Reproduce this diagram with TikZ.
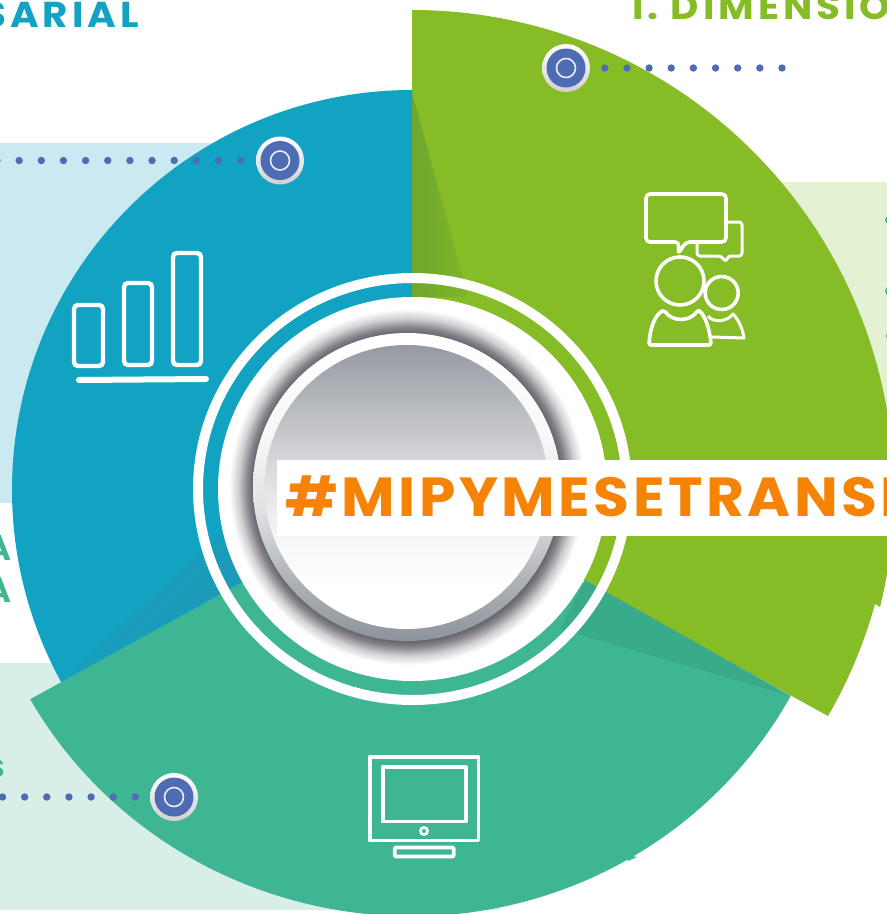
\documentclass[tikz,border=0pt]{standalone}
\usepackage{fontspec}
\setmainfont{Poppins}
\newfontfamily\bannerfont[LetterSpace=6.4,FakeStretch=1.06]{Poppins Bold}
\newfontfamily\headfont[LetterSpace=5,FakeStretch=1.06]{Poppins SemiBold}
\newfontfamily\wideheadfont[LetterSpace=11,FakeStretch=1.08]{Poppins Bold}
\definecolor{bluec}{HTML}{12A3C3}
\definecolor{bluedark}{HTML}{2096B4}
\definecolor{greenc}{HTML}{86BC25}
\definecolor{greendarkl}{HTML}{6FA62E}
\definecolor{greendarkr}{HTML}{80B528}
\definecolor{tealc}{HTML}{3FB693}
\definecolor{tealdark}{HTML}{39AB8B}
\definecolor{bluep}{HTML}{CBE9F1}
\definecolor{greenp}{HTML}{E5F1D3}
\definecolor{tealp}{HTML}{D8EFE8}
\definecolor{dotc}{HTML}{4E6CB3}
\definecolor{orangec}{HTML}{F58406}
\definecolor{steel}{HTML}{959AA2}
\pgfdeclareradialshading{halo}{\pgfpoint{0bp}{0bp}}{rgb(0bp)=(0.40,0.39,0.42);rgb(21.6bp)=(0.40,0.39,0.42);rgb(22.4bp)=(0.52,0.51,0.54);rgb(23.7bp)=(0.82,0.81,0.82);rgb(25bp)=(1,1,1);rgb(50bp)=(1,1,1)}
\pgfdeclareverticalshading{discsh}{100bp}{rgb(0bp)=(1,1,1);rgb(31.7bp)=(1,1,1);rgb(41.2bp)=(0.968,0.968,0.968);rgb(50bp)=(0.89,0.89,0.90);rgb(54.8bp)=(0.835,0.84,0.85);rgb(75bp)=(0.584,0.604,0.635);rgb(100bp)=(0.584,0.604,0.635)}
\pgfdeclareverticalshading{rimsh}{100bp}{rgb(0bp)=(0.56,0.58,0.61);rgb(25bp)=(0.56,0.58,0.61);rgb(35bp)=(0.68,0.70,0.72);rgb(46bp)=(0.88,0.88,0.89);rgb(58bp)=(0.97,0.97,0.97);rgb(75bp)=(1,1,1);rgb(100bp)=(1,1,1)}
\tikzset{
  dotline/.style={dotc,line width=7.4pt,line cap=round,dash pattern=on 0pt off 22.15pt},
  mkouter/.style={circle,minimum size=48pt,inner sep=0pt,top color=white,bottom color=black!18},
  mkinner/.style={circle,minimum size=39pt,inner sep=0pt,fill=dotc},
  mkeye/.style={circle,minimum size=19pt,inner sep=0pt,draw=white!88!dotc,line width=1.6pt},
  iconline/.style={draw=white,line width=3.6pt,line join=round},
  barline/.style={draw=white,line width=4.4pt,rounded corners=4pt},
  head/.style={inner sep=0pt,font=\headfont\fontsize{36}{36}\selectfont},
  widehead/.style={inner sep=0pt,font=\wideheadfont\fontsize{36}{36}\selectfont}
}
\begin{document}
\begin{tikzpicture}[x=1pt,y=1pt]
\useasboundingbox (0,0) rectangle (887,-914);
\clip (0,0) rectangle (887,-914);
\fill[white] (0,0) rectangle (887,-914);
% panels
\fill[bluep] (0,-143) rectangle (420,-503);
\fill[greenp] (600,-182) rectangle (887,-420);
\fill[tealp] (0,-663) rectangle (500,-910);
% clipped labels
\node[widehead,text=bluec,anchor=base east] (t1) at (139,-27) {SARIAL};
\node[widehead,text=greenc,anchor=base west] (t2) at (632,-19) {I. DIMENSIO};
\node[head,text=tealc,anchor=base east] (t3) at (12,-560) {A};
\node[head,text=tealc,anchor=base east] (t4) at (12,-602) {A};
\node[head,text=tealc,anchor=base east,font=\headfont\fontsize{25}{25}\selectfont] (t5) at (5,-777) {S};
\fill[tealc] (889,-220) circle (4);
\fill[tealc] (890,-291) circle (5);
\fill[tealc] (889,-336) circle (3);
% sectors
\fill[bluec] (412,-489) -- (412,-90) arc[start angle=90,end angle=215,radius=400] -- cycle;
\fill[tealc] (790.7,-696) arc[start angle=-28.8,end angle=-90,x radius=432,y radius=425] arc[start angle=-90,end angle=-150.7,x radius=438,y radius=425] -- (412,-489) -- cycle;
\fill[tealc] (628,-855) -- (637,-857) -- (628,-861) -- cycle;
\fill[greenc] (412,-10) arc[start angle=90,end angle=-13.8,radius=482] -- (875,-604) .. controls (864.1,-643.3) and (848.5,-680.7) .. (828,-716) -- (412,-487) -- cycle;
% shadows
\shade[top color=bluec,bottom color=bluedark,shading angle=45] (66,-678) -- (222,-530) -- (240,-582) -- cycle;
\shade[top color=greendarkl,bottom color=greendarkr,shading angle=90] (412,-92) -- (468,-297) -- (412,-297) -- cycle;
\fill[tealdark] (790.7,-696) -- (585,-580) -- (560,-629) -- cycle;
% rings
\fill[white,even odd rule] (412.5,-489) ellipse [x radius=219.5,y radius=216] (412.5,-489) ellipse [x radius=209.5,y radius=206];
\fill[white] (412.5,-489) ellipse [x radius=194.5,y radius=192];
\shade[shading=halo] (407,-487) circle (178);
\shade[shading=rimsh] (407,-487) circle (154);
\shade[shading=discsh] (406.5,-487) circle (142);
% banner
\fill[white] (276.5,-460) rectangle (887,-536);
\node[inner sep=0pt,anchor=base west,text=orangec,font=\bannerfont\fontsize{55}{55}\selectfont] (banner) at (285,-516) {\#MIPYMESETRANSF};
% chart icon
\draw[barline] (74,-305) rectangle (103,-366);
\draw[barline] (124,-283) rectangle (152,-365);
\draw[barline] (173,-253) rectangle (201,-365);
\draw[iconline,line width=6pt,line cap=round] (79,-380) -- (206,-379);
% people icon
\draw[iconline,line width=3pt,rounded corners=3pt] (697,-222) -- (742,-222) -- (742,-256) -- (728,-256) -- (726,-262) -- (721,-256) -- (697,-256) -- cycle;
\draw[iconline,fill=greenc,rounded corners=4pt] (646,-194) -- (726,-194) -- (726,-242) -- (686,-242) -- (678,-254) -- (679,-242) -- (646,-242) -- cycle;
\draw[iconline,line width=3pt] (708,-316) .. controls (713,-323) and (727,-322) .. (733,-314) .. controls (739,-320) and (743,-330) .. (744,-338) -- (712,-337);
\draw[iconline,fill=greenc] (721.7,-293) circle (16.5);
\draw[iconline,fill=greenc,rounded corners=2pt] (649,-345) .. controls (650,-328) and (655,-315) .. (664,-310) .. controls (672,-322) and (690,-322) .. (698,-310) .. controls (705,-315) and (710,-330) .. (711,-345) -- cycle;
\draw[iconline,fill=greenc] (680,-281) circle (24);
% monitor icon
\draw[iconline] (369.7,-756.7) rectangle (478.5,-840.5);
\draw[iconline] (382.7,-766.7) rectangle (465.8,-821.5);
\draw[iconline,line width=2.6pt] (424,-831) circle (3.6);
\draw[iconline,rounded corners=1pt] (394.7,-847.5) rectangle (453.7,-856.5);
% markers
\node[mkouter] (m1) at (280,-160.5) {};
\node[mkinner] (m1b) at (m1.center) {};
\node[mkeye] (m1c) at (m1.center) {};
\node[mkouter] (m2) at (566,-68) {};
\node[mkinner] (m2b) at (m2.center) {};
\node[mkeye] (m2c) at (m2.center) {};
\node[mkouter] (m3) at (174,-797) {};
\node[mkinner] (m3b) at (m3.center) {};
\node[mkeye] (m3c) at (m3.center) {};
\coordinate (e1) at (-3,-160.5);
\coordinate (e2) at (782,-68);
\coordinate (e3) at (2.5,-797);
\draw[dotline] (e1) -- (m1.west);
\draw[dotline] (e2) -- (m2.east);
\draw[dotline] (e3) -- (m3.west);
\end{tikzpicture}
\end{document}
